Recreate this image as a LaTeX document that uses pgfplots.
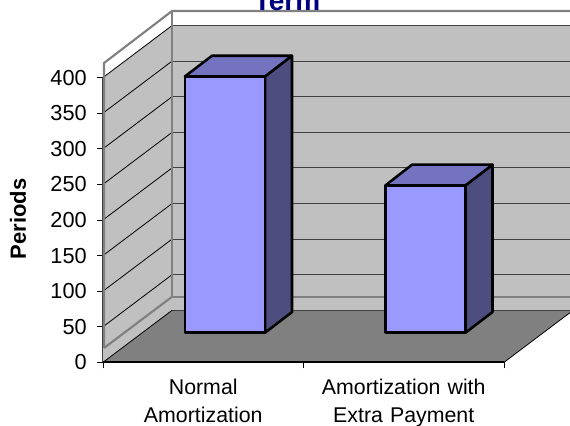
\documentclass[border=0pt]{standalone}
\usepackage{pgfplots}
\pgfplotsset{compat=1.18}
\usepackage{fontspec}
\setmainfont{Liberation Sans}
\definecolor{wall}{HTML}{C0C0C0}
\definecolor{floorc}{HTML}{808080}
\definecolor{barf}{HTML}{9999FF}
\definecolor{bart}{HTML}{7373BF}
\definecolor{bars}{HTML}{4D4D80}
\definecolor{gridc}{HTML}{404040}
\begin{document}
\begin{tikzpicture}[x=1pt,y=1pt]
\useasboundingbox (0,0) rectangle (427.5,318.75);
\clip (0,0) rectangle (427.5,318.75);
\begin{axis}[
  at={(77.25pt,47pt)}, anchor=south west,
  scale only axis, width=350.25pt, height=213.6pt,
  xmin=103, xmax=570, ymin=0, ymax=400,
  clip=false,
  axis line style={draw=none},
  /pgf/number format/assume math mode=true,
  tick style={black, line width=0.6pt},
  ytick={0,50,100,150,200,250,300,350,400},
  ytick pos=left, tick align=outside,
  major tick length=4.5pt,
  yticklabel style={font=\fontsize{16.3}{18}\selectfont, inner sep=0pt, xshift=-7.5pt},
  xtick={203.25,403.75}, xtick pos=bottom,
  xticklabels={{Normal\\Amortization},{Amortization with\\Extra Payment}},
  x tick style={draw=none},
  xticklabel style={font=\fontsize{16}{21}\selectfont, align=center, text width=150pt, yshift=-4.2pt},
  minor xtick={103,303.5,504},
  minor tick length=4.5pt,
  minor x tick style={black, draw=black, line width=0.6pt},
]
% white upper band of walls
\addplot[fill=white, draw=none] coordinates {(103,420.4)(172,493.4)(573,493.4)(573,92.1)(172,92.1)(103,20.1)} --cycle;
% grey walls below the 400 level
\addplot[fill=wall, draw=none] coordinates {(103,400)(172,473)(573,473)(573,73)(172,73)(103,0)} --cycle;
% floor
\addplot[fill=floorc, draw=none] coordinates {(103,0)(504,0)(573,73)(172,73)} --cycle;
% back wall gridlines
\addplot[gridc, line width=0.75pt] coordinates {(172,473)(573,473)};
\addplot[gridc, line width=0.75pt] coordinates {(172,423)(573,423)};
\addplot[gridc, line width=0.75pt] coordinates {(172,373)(573,373)};
\addplot[gridc, line width=0.75pt] coordinates {(172,323)(573,323)};
\addplot[gridc, line width=0.75pt] coordinates {(172,273)(573,273)};
\addplot[gridc, line width=0.75pt] coordinates {(172,223)(573,223)};
\addplot[gridc, line width=0.75pt] coordinates {(172,173)(573,173)};
\addplot[gridc, line width=0.75pt] coordinates {(172,123)(573,123)};
% side wall gridlines
\addplot[black, line width=0.6pt] coordinates {(103,400)(172,473)};
\addplot[black, line width=0.6pt] coordinates {(103,350)(172,423)};
\addplot[black, line width=0.6pt] coordinates {(103,300)(172,373)};
\addplot[black, line width=0.6pt] coordinates {(103,250)(172,323)};
\addplot[black, line width=0.6pt] coordinates {(103,200)(172,273)};
\addplot[black, line width=0.6pt] coordinates {(103,150)(172,223)};
\addplot[black, line width=0.6pt] coordinates {(103,100)(172,173)};
\addplot[black, line width=0.6pt] coordinates {(103,50)(172,123)};
% wall outlines
\addplot[floorc, line width=1.6pt] coordinates {(104,20.1)(104,420.4)(172,493.4)(573,493.4)};
\addplot[floorc, line width=1.6pt] coordinates {(172,493.4)(172,92.1)(573,92.1)};
\addplot[floorc, line width=1.6pt] coordinates {(104,20.1)(172,92.1)};
% floor edges
\addplot[gridc, line width=0.6pt] coordinates {(172,73)(573,73)};
\addplot[black, line width=0.6pt] coordinates {(103,0)(172,73)};
\addplot[black, line width=0.6pt] coordinates {(504,0)(573,73)};
\addplot[gridc, line width=0.7pt] coordinates {(102.7,0)(102.7,400)};
\addplot[black, line width=1.3pt] coordinates {(103,0)(504,0)};
% bar 1: 360 periods
\addplot[fill=bars, draw=black, line width=1.9pt, line join=round] coordinates {(265,41.6)(292,70.6)(292,430.6)(265,401.6)} --cycle;
\addplot[fill=bart, draw=black, line width=1.9pt, line join=round] coordinates {(185,401.6)(212,430.6)(292,430.6)(265,401.6)} --cycle;
\addplot[fill=barf, draw=black, line width=1.9pt, line join=round] coordinates {(185,41.6)(265,41.6)(265,401.6)(185,401.6)} --cycle;
% bar 2: 207 periods
\addplot[fill=bars, draw=black, line width=1.9pt, line join=round] coordinates {(465.5,41.6)(492.5,70.6)(492.5,277.6)(465.5,248.6)} --cycle;
\addplot[fill=bart, draw=black, line width=1.9pt, line join=round] coordinates {(385.5,248.6)(412,277.6)(492.5,277.6)(465.5,248.6)} --cycle;
\addplot[fill=barf, draw=black, line width=1.9pt, line join=round] coordinates {(385.5,41.6)(465.5,41.6)(465.5,248.6)(385.5,248.6)} --cycle;
\node[font=\bfseries\fontsize{16.5}{18}\selectfont, rotate=90, anchor=center] at (axis cs:18,201.7) {Periods};
\node[font=\bfseries\fontsize{21}{24}\selectfont, text=blue!50!black, anchor=base, inner sep=0pt] at (axis cs:287,494) {Term};
\end{axis}
\end{tikzpicture}
\end{document}
